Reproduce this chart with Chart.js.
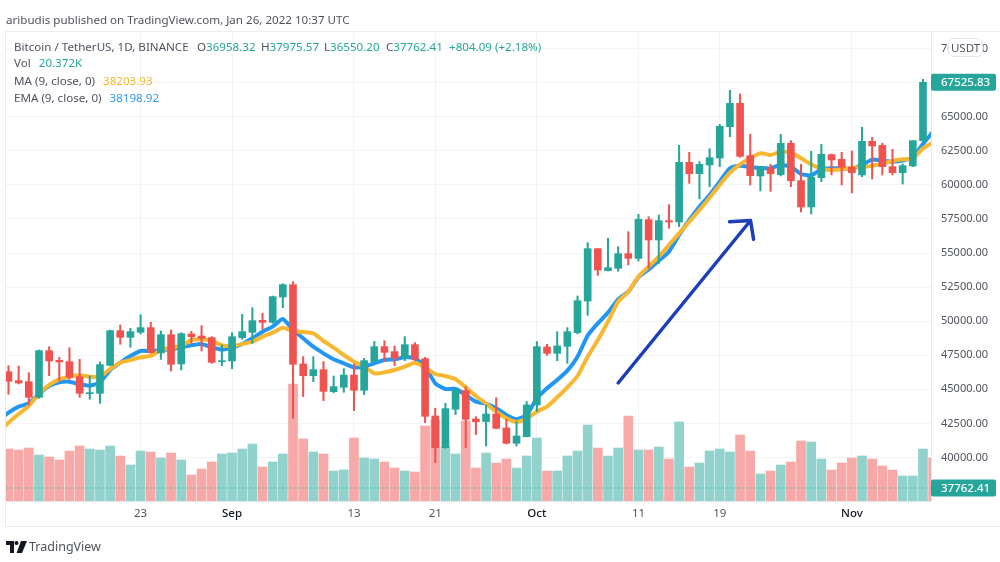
<!DOCTYPE html>
<html><head><meta charset="utf-8">
<style>
html,body{margin:0;padding:0;background:#fff;width:1000px;height:562px;overflow:hidden}
body{font-family:"Noto Sans",sans-serif;position:relative}
canvas{position:absolute;left:0;top:0}
.t{position:absolute;white-space:nowrap;font-size:11.6px;line-height:16px;color:#50535e}
.frame{position:absolute;left:5px;top:31px;width:995px;height:496px;border-left:1.5px solid #e8e9ee;border-top:1.5px solid #eceef2;border-bottom:1.5px solid #e8e9ee;box-sizing:border-box}
.g{color:#26a69a}.y{color:#f7b731}.b{color:#2f96ee}
.pill{position:absolute;left:948px;top:38px;width:35px;height:19px;box-sizing:border-box;background:#fff;border:1px solid #e0e3eb;border-radius:6px;font-size:11.5px;line-height:17px;text-align:center;color:#50535e}
</style></head><body>
<canvas id="c" width="1000" height="562"></canvas>
<div class="frame"></div>
<div class="t" style="left:6px;top:12px">aribudis published on TradingView.com, Jan 26, 2022 10:37 UTC</div>
<div class="t" style="left:14px;top:39px">Bitcoin / TetherUS, 1D, BINANCE</div>
<div class="t" style="left:197px;top:39px">O<span class="g">36958.32</span></div>
<div class="t" style="left:261px;top:39px">H<span class="g">37975.57</span></div>
<div class="t" style="left:324px;top:39px">L<span class="g">36550.20</span></div>
<div class="t" style="left:386px;top:39px">C<span class="g">37762.41</span></div>
<div class="t g" style="left:449px;top:39px">+804.09 (+2.18%)</div>
<div class="t" style="left:14px;top:55px">Vol <span class="g" style="margin-left:5px">20.372K</span></div>
<div class="t" style="left:14px;top:73px">MA (9, close, 0) <span class="y" style="margin-left:5px">38203.93</span></div>
<div class="t" style="left:14px;top:90px">EMA (9, close, 0) <span class="b" style="margin-left:5px">38198.92</span></div>
<div class="pill">USDT</div>
<svg style="position:absolute;left:6px;top:541px" width="21" height="12" viewBox="0 0 21 12"><path d="M0 0h8v12H4V4H0z" fill="#131722"/><circle cx="10.5" cy="2" r="2" fill="#131722"/><path d="M15 0h6l-5 12h-5.4z" fill="#131722"/></svg>
<div class="t" style="left:29px;top:538px;font-size:12.5px;line-height:18px">TradingView</div>
<script src="https://cdn.jsdelivr.net/npm/chart.js@4/dist/chart.umd.min.js"></script>
<script>
const categories=["Aug 10","Aug 11","Aug 12","Aug 13","Aug 14","Aug 15","Aug 16","Aug 17","Aug 18","Aug 19","Aug 20","Aug 21","Aug 22","Aug 23","Aug 24","Aug 25","Aug 26","Aug 27","Aug 28","Aug 29","Aug 30","Aug 31","Sep 1","Sep 2","Sep 3","Sep 4","Sep 5","Sep 6","Sep 7","Sep 8","Sep 9","Sep 10","Sep 11","Sep 12","Sep 13","Sep 14","Sep 15","Sep 16","Sep 17","Sep 18","Sep 19","Sep 20","Sep 21","Sep 22","Sep 23","Sep 24","Sep 25","Sep 26","Sep 27","Sep 28","Sep 29","Sep 30","Oct 1","Oct 2","Oct 3","Oct 4","Oct 5","Oct 6","Oct 7","Oct 8","Oct 9","Oct 10","Oct 11","Oct 12","Oct 13","Oct 14","Oct 15","Oct 16","Oct 17","Oct 18","Oct 19","Oct 20","Oct 21","Oct 22","Oct 23","Oct 24","Oct 25","Oct 26","Oct 27","Oct 28","Oct 29","Oct 30","Oct 31","Nov 1","Nov 2","Nov 3","Nov 4","Nov 5","Nov 6","Nov 7","Nov 8","Nov 9"];
const opens=[46297,45637,45563,44414,47837,47128,47030,45930,44683,44707,46761,49304,48815,49182,49524,47666,49011,46859,49060,48913,48791,47030,47079,48791,49182,50062,49915,51774,52678,46859,46003,46443,44830,45148,46052,44928,47030,48130,47764,47299,48277,47250,43045,40722,43534,44903,42825,42630,43192,42165,41040,41529,43852,48107,47642,48155,49158,51481,55319,53706,53877,54953,54610,57446,55955,57373,57277,61653,60822,61458,61971,64269,65981,62142,60651,61262,60749,63047,60309,58377,60529,62216,61873,61287,60724,63194,62900,61335,60895,61384,63243];
const closes=[45588,45465,44414,47837,47079,47006,45881,44707,44756,46810,49304,48815,49231,49524,47690,49011,46835,49084,48864,48742,46981,47104,48864,49231,50038,49915,51798,52678,46835,46003,46443,44854,45196,46052,44928,47104,48130,47715,47275,48277,47201,43020,40722,43583,44952,42800,42629,43192,42141,41040,41578,43852,48131,47642,48180,49231,51505,55319,53754,53926,54953,54610,57471,55955,57373,57275,61653,60822,61507,61996,64294,65981,62093,60675,61311,60822,63047,60309,58377,60553,62240,61824,61287,60895,63194,62851,61335,60895,61409,63243,67525.83];
const highs=[46737,46712,46223,47886,48130,47348,48057,47201,45979,47006,49353,49720,49475,50478,49915,49280,49353,49157,49255,49671,48864,48253,49157,50502,50991,50575,51847,52752,52898,47397,47397,47030,45979,46517,46859,47275,48522,48571,48179,48864,48424,47348,43607,43974,45025,45196,42996,43852,44390,42801,42630,44097,48498,48302,49231,49525,51847,55759,55319,56077,55466,56566,57838,57666,57789,58547,62900,62387,61702,62656,64441,66935,66666,63707,61335,61507,63707,63243,61507,62460,62974,62265,62387,62485,64221,63487,63047,62607,61531,63243,67741];
const lows=[44634,45392,43852,44341,46003,45612,45734,44414,44267,43974,46737,48302,48082,49060,47641,47201,46346,46419,48375,47813,46908,46737,46517,48668,48375,49402,49842,50991,42874,44463,45563,44170,44756,44781,43436,44610,47030,47030,46737,47104,47104,42556,39622,40673,43143,40722,41676,40845,42092,40992,40845,41505,43363,47495,47104,46908,49060,50429,53363,53681,53657,54121,54415,53877,54243,56811,56934,60113,58964,59868,61335,63536,62020,59991,59551,59526,60651,59868,58010,57864,60235,60724,59991,59404,60602,60431,60724,60724,60064,61335,63194];
const volumes=[52,51,53,46,44,41,50,55,52,51,55,45,36,50,49,43,48,41,26,32,39,47,48,52,57,34,39,47,117,62,49,47,30,31,63,43,42,39,33,30,29,75,81,54,47,80,33,48,38,42,33,45,63,30,30,45,50,76,53,45,53,85,51,51,54,42,79,34,38,50,52,49,66,50,27,30,36,39,60,59,42,31,38,43,45,42,35,31,25,25,52,43];
const volumeUp=[0,0,0,1,0,0,0,0,1,1,1,0,1,1,0,1,0,1,0,0,0,1,1,1,1,0,1,1,0,0,1,0,1,1,0,1,1,0,0,1,0,0,0,1,1,0,0,1,0,0,1,1,1,0,1,1,1,1,0,1,1,0,1,0,1,0,1,0,1,1,1,1,0,0,1,0,1,0,0,1,1,0,0,0,1,0,0,0,1,1,1,0];
const maValues=[42556,43192,43778,44659,45319,45734,45930,46028,45930,45930,46492,46957,47152,47348,47446,47886,48057,48179,48619,48668,48571,48228,48179,48326,48497,48864,49157,49524,49280,49206,49108,48546,48057,47519,47030,46663,46174,46248,46419,46663,46957,46615,46126,45979,45734,45148,44512,43950,43363,42874,42605,42874,43363,43730,44415,45148,45979,47397,48620,49965,51432,52165,53265,53999,54732,55588,56444,57300,58155,59062,59991,60895,61507,61947,62313,62191,62436,62387,61947,61507,61164,61091,61140,61262,61287,61409,61556,61751,61873,61947,62680,63096];
const emaValues=[43289,43729,43974,44659,45245,45514,45563,45368,45270,45514,46419,46957,47446,47813,47813,47886,47935,48082,48228,48326,48082,47910,48057,48326,48742,49231,49597,50160,49353,48742,48130,47641,47201,46908,46615,46663,46908,47152,47201,47348,47275,46663,45441,45025,45025,44585,44096,43950,43608,43119,42801,43119,44341,45075,45686,46371,47397,48938,49842,50625,51603,52165,53217,53803,54439,55099,56322,57422,58400,59257,60235,61213,61409,61311,61238,61213,61458,61335,60798,60700,61140,61213,61213,61189,61458,61849,61776,61702,61776,62020,62998,63903];
const maPreviousDay=41800;
const emaPreviousDay=42700;
const priceTicks=[37500,40000,42500,45000,47500,50000,52500,55000,57500,60000,62500,65000,67500,70000];
const timeTickDates=["Aug 23","Sep 1","Sep 13","Sep 21","Oct 1","Oct 11","Oct 19","Nov 1"];
const timeTickLabels=["23","Sep","13","21","Oct","11","19","Nov"];
const monthLabels=["Sep","Oct","Nov"];
const arrowIndex=[60,73.03,70.96,73.03,73.33];
const arrowPrice=[45464,57385,57297,57385,56000];
const lastPrices=[67525.83,37762.41];

const GREEN='#26a69a',RED='#ef5350',GREEN_V='#92d2cc',RED_V='#f7a9a7';
const isUp=closes.map((c,i)=>c>=opens[i]);
const timeTickIndex=timeTickDates.map(d=>categories.indexOf(d));
const candleColors=isUp.map(u=>u?GREEN:RED);

const badgePlugin={id:'badges',afterDraw(ch){
  const c=ch.ctx,y=ch.scales.y;
  lastPrices.forEach(p=>{
    const py=y.getPixelForValue(p);
    c.save();c.fillStyle=GREEN;c.beginPath();c.roundRect(931,py-8.5,65,17,2);c.fill();
    c.fillStyle='#fff';c.font='500 11.5px "Noto Sans"';c.textAlign='left';c.textBaseline='middle';
    c.fillText(p.toFixed(2),941,py+0.5);c.restore();
  });
}};

new Chart(document.getElementById('c'),{
  type:'bar',
  plugins:[badgePlugin],
  data:{datasets:[
    {type:'line',label:'Arrow',data:arrowIndex.map((x,i)=>({x,y:arrowPrice[i]})),borderColor:'#1c3fb8',borderWidth:3.5,pointRadius:0,borderCapStyle:'round',borderJoinStyle:'round',order:0,clip:0},
    {label:'Body',data:opens.map((o,i)=>({x:i,y:[o,closes[i]]})),backgroundColor:candleColors,barThickness:7,grouped:false,order:1,yAxisID:'y',borderWidth:0},
    {label:'Wick',data:lows.map((l,i)=>({x:i,y:[l,highs[i]]})),backgroundColor:candleColors,barThickness:1.4,grouped:false,order:2,yAxisID:'y',borderWidth:0},
    {type:'line',label:'MA',data:[{x:-1,y:maPreviousDay},...maValues.map((y,x)=>({x,y}))],borderColor:'#f7b731',borderWidth:4,pointRadius:0,tension:0.2,borderJoinStyle:'round',order:3,clip:0},
    {type:'line',label:'EMA',data:[{x:-1,y:emaPreviousDay},...emaValues.map((y,x)=>({x,y}))],borderColor:'#2196f3',borderWidth:4,pointRadius:0,tension:0.2,borderJoinStyle:'round',order:4,clip:0},
    {type:'line',label:'Last',data:[{x:-1,y:lastPrices[1]},{x:categories.length,y:lastPrices[1]}],borderColor:GREEN,borderWidth:1,borderDash:[1,3],pointRadius:0,order:5,clip:0},
    {label:'Volume',data:volumes.map((v,x)=>({x,y:v})),backgroundColor:volumeUp.map(u=>u?GREEN_V:RED_V),barThickness:9,grouped:false,order:6,yAxisID:'yV',borderWidth:0}
  ]},
  options:{
    responsive:false,animation:false,devicePixelRatio:1,
    layout:{padding:{top:32,left:6,right:0,bottom:35}},
    plugins:{legend:{display:false},tooltip:{enabled:false}},
    scales:{
      x:{type:'linear',offset:false,min:-0.246,max:90.79,
        grid:{color:'#f2f3f6',offset:false,drawTicks:false},
        border:{color:'#e4e6eb',width:1},
        afterBuildTicks(s){s.ticks=timeTickIndex.map(value=>({value}));},
        afterFit(s){s.height=26;},
        ticks:{autoSkip:false,maxRotation:0,padding:6,
          callback:v=>timeTickLabels[timeTickIndex.indexOf(v)],
          color:ctx=>monthLabels.includes(timeTickLabels[ctx.index])?'#131722':'#50535e',
          font:ctx=>({family:'"Noto Sans"',size:11.5,weight:monthLabels.includes(timeTickLabels[ctx.index])?'500':'400'})}},
      y:{position:'right',min:36808,max:71213,
        grid:{color:'#f2f3f6',drawTicks:false},
        border:{color:'#e4e6eb',width:1},
        afterBuildTicks(s){s.ticks=priceTicks.map(value=>({value}));},
        afterFit(s){s.width=69;},
        ticks:{padding:10,color:'#50535e',font:{family:'"Noto Sans"',size:11},callback:v=>Number(v).toFixed(2)}},
      yV:{display:false,min:0,max:469}
    }
  }
});
</script>
</body></html>
